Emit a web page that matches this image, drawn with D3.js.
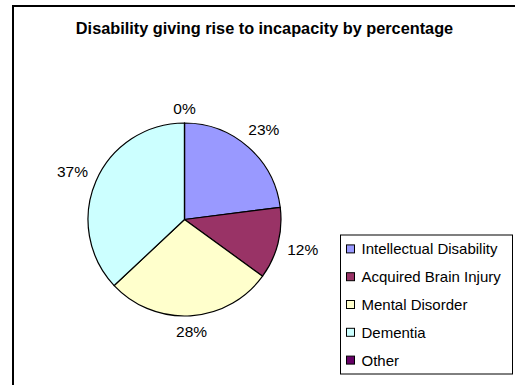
<!DOCTYPE html>
<html>
<head>
<meta charset="utf-8">
<script src="https://cdn.jsdelivr.net/npm/d3@7"></script>
<style>
  html, body { margin: 0; padding: 0; background: #fff; }
  svg { display: block; font-family: "Liberation Sans", Arial, sans-serif; }
</style>
</head>
<body>
<svg id="chart" width="515" height="385"></svg>
<script>
// Data: share of each disability type (percent)
const categories = ["Intellectual Disability", "Acquired Brain Injury", "Mental Disorder", "Dementia", "Other"];
const values = [23, 12, 28, 37, 0];
const colors = ["#9999FF", "#993366", "#FFFFCC", "#CCFFFF", "#660066"];
const title = "Disability giving rise to incapacity by percentage";

const svg = d3.select("#chart");
const W = 515, H = 385;

// Outer chart frame (right/bottom edges fall outside the view)
svg.append("rect")
  .attr("x", 13).attr("y", 6)
  .attr("width", 520).attr("height", 400)
  .attr("fill", "#fff")
  .attr("stroke", "#000").attr("stroke-width", 2);

// Title
svg.append("text")
  .attr("x", 264.5).attr("y", 34)
  .attr("text-anchor", "middle")
  .attr("font-weight", "bold")
  .attr("font-size", 16.3)
  .attr("fill", "#000")
  .text(title);

// Pie
const cx = 184.5, cy = 219.5, r = 96.5;
const color = d3.scaleOrdinal().domain(categories).range(colors);
const pie = d3.pie().sort(null).value(d => d.value);
const data = categories.map((c, i) => ({ name: c, value: values[i] }));
const arcs = pie(data);
const arc = d3.arc().innerRadius(0).outerRadius(r);

const g = svg.append("g").attr("transform", `translate(${cx},${cy})`);
g.selectAll("path.slice")
  .data(arcs)
  .join("path")
  .attr("class", "slice")
  .attr("d", arc)
  .attr("fill", d => color(d.data.name))
  .attr("stroke", "#000")
  .attr("stroke-width", 1.2)
  .attr("stroke-linejoin", "round");

// Percentage labels placed just outside the rim
const total = d3.sum(values);
const fmt = v => Math.round(v / total * 100) + "%";
const pad = 9;
g.selectAll("text.pct")
  .data(arcs)
  .join("text")
  .attr("class", "pct")
  .attr("font-size", 15.5)
  .attr("fill", "#000")
  .attr("text-anchor", "middle")
  .text(d => fmt(d.data.value))
  .each(function (d) {
    const a = (d.startAngle + d.endAngle) / 2;
    const ux = Math.sin(a), uy = -Math.cos(a);
    const bb = this.getBBox();
    const hw = bb.width / 2, hh = 5.5;
    const dist = r + pad + Math.abs(ux) * hw + Math.abs(uy) * hh;
    d3.select(this)
      .attr("x", ux * dist)
      .attr("y", uy * dist + hh);
  });

// Legend
const lx = 340.5, ly = 235, lw = 172, lh = 139;
svg.append("rect")
  .attr("x", lx).attr("y", ly)
  .attr("width", lw).attr("height", lh)
  .attr("fill", "#fff")
  .attr("stroke", "#000").attr("stroke-width", 1);

const row = d3.scaleBand().domain(categories).range([ly, ly + lh]);
const items = svg.append("g").selectAll("g")
  .data(categories)
  .join("g")
  .attr("transform", d => `translate(0,${row(d) + row.bandwidth() / 2})`);

items.append("rect")
  .attr("x", 346.5).attr("y", -4)
  .attr("width", 8).attr("height", 8)
  .attr("fill", d => color(d))
  .attr("stroke", "#000").attr("stroke-width", 1);

items.append("text")
  .attr("x", 361.5).attr("y", 5.5)
  .attr("font-size", 15)
  .attr("fill", "#000")
  .text(d => d);
</script>
</body>
</html>
